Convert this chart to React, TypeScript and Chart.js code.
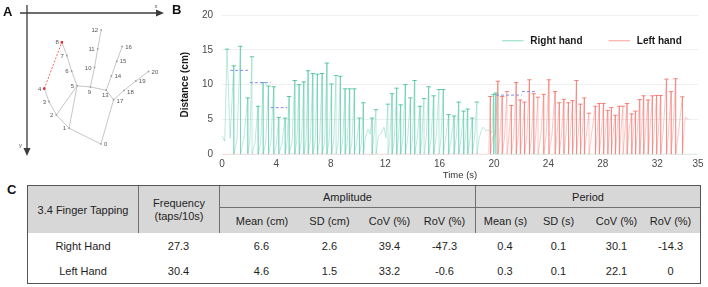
import { useEffect, useRef } from "react";
import { Chart, registerables } from "chart.js";

Chart.register(...registerables);

const FONT = "'Liberation Sans', Arial, Helvetica, sans-serif";
Chart.defaults.font.family = FONT;

// ---------- Panel A: hand landmark layout (image coordinates, y down) ----------
const landmarkX = [101.7, 68.3, 55, 47.3, 42.3, 76.7, 71, 66, 60.7, 90.7, 95, 98.3, 102, 107.3, 112.7, 118.3, 124, 115, 126, 138.3, 151.7];
const landmarkY = [147.3, 130.7, 116.7, 102.7, 89, 86, 70.7, 54.3, 40.3, 87.3, 66.7, 47.3, 27.3, 90.7, 75.7, 60.3, 44.7, 100.7, 91, 81, 71];
const boneChains = [
  [0, 1, 2, 3, 4],
  [1, 5],
  [2, 5],
  [5, 6, 7, 8],
  [5, 9, 13, 17, 0],
  [9, 10, 11, 12],
  [13, 14, 15, 16],
  [17, 18, 19, 20],
];
const markedPair = [4, 8];
const labelSide = ["r", "l", "l", "l", "l", "l", "l", "l", "l", "b", "l", "l", "l", "b", "r", "r", "r", "rb", "rb", "r", "r"];

// ---------- Panel B: fingertip distance traces ----------
const xTicks = [0, 4, 8, 12, 16, 20, 24, 28, 32, 35];
const yTicks = [0, 5, 10, 15, 20];

const rightPeakT = [0.37, 0.86, 1.35, 1.89, 2.2, 2.65, 3.02, 3.41, 3.8, 4.17, 4.64, 4.93, 5.35, 5.67, 6.01, 6.33, 6.67, 7.01, 7.36, 7.71, 8.05, 8.38, 8.7, 9.05, 9.38, 9.73, 10.1, 10.39, 11.03, 11.32, 12.2, 12.5, 12.84, 13.13, 13.48, 13.85, 14.16, 14.56, 14.85, 15.19, 15.56, 15.95, 16.27, 16.66, 17.06, 17.4, 17.76, 18.06, 18.4, 18.74, 19.97, 20.13];
const rightPeakV = [15.1, 12.7, 15.5, 8.1, 14.0, 6.9, 10.3, 9.8, 9.7, 5.3, 5.2, 8.3, 10.6, 10.0, 10.4, 12.0, 11.6, 11.5, 11.6, 13.1, 10.1, 11.3, 11.2, 9.4, 9.4, 9.4, 5.2, 7.4, 5.2, 6.4, 7.2, 8.7, 9.5, 7.1, 10.0, 8.1, 10.6, 6.9, 8.0, 9.7, 8.4, 9.3, 9.3, 5.7, 5.5, 7.5, 6.2, 6.5, 5.2, 7.5, 8.6, 8.8];
const rightLowT = [0.02, 0.2, 0.6, 1.1, 1.6, 2.05, 2.42, 2.85, 3.22, 3.6, 4.0, 4.4, 4.8, 5.15, 5.5, 5.85, 6.17, 6.5, 6.85, 7.18, 7.55, 7.88, 8.22, 8.54, 8.88, 9.22, 9.55, 9.92, 10.25, 10.55, 10.74, 10.88, 11.18, 11.5, 11.7, 11.91, 12.05, 12.35, 12.67, 12.98, 13.3, 13.66, 14.0, 14.36, 14.7, 15.02, 15.37, 15.75, 16.1, 16.46, 16.86, 17.23, 17.58, 17.9, 18.23, 18.57, 18.9, 19.05, 19.2, 19.4, 19.6, 19.85, 20.05, 34.9];
const rightLowV = [2.6, 1.9, 2.3, 2.1, 2.2, 2.0, 1.6, 1.7, 1.8, 1.7, 1.4, 1.5, 2.0, 1.8, 1.9, 2.0, 1.8, 2.0, 1.9, 2.0, 1.8, 2.1, 2.0, 1.8, 2.1, 1.9, 1.7, 2.0, 1.6, 2.5, 3.6, 2.9, 2.8, 2.6, 3.0, 3.9, 2.4, 2.3, 2.2, 2.4, 2.2, 2.5, 2.2, 2.4, 2.1, 2.3, 2.2, 2.6, 2.3, 2.5, 2.2, 2.5, 2.3, 2.4, 2.2, 2.4, 2.2, 3.3, 3.9, 3.4, 3.5, 3.0, 3.0, 0];
const rightNoDrop = [0];

const leftPeakT = [19.73, 20.28, 20.6, 20.95, 21.27, 21.63, 21.93, 22.24, 22.6, 22.92, 23.23, 23.65, 24.03, 24.49, 24.8, 25.13, 25.47, 25.77, 26.06, 26.35, 26.64, 26.98, 27.45, 27.74, 28.05, 28.36, 28.63, 28.92, 29.21, 29.48, 29.78, 30.12, 30.4, 30.71, 31.0, 31.33, 31.64, 31.95, 32.25, 32.68, 33.02, 33.35, 33.85];
const leftPeakV = [8.3, 10.5, 8.3, 9.0, 7.0, 10.3, 7.8, 7.5, 10.7, 8.7, 8.2, 8.6, 10.7, 9.0, 7.4, 7.9, 7.4, 7.7, 10.6, 7.2, 8.1, 5.9, 6.9, 7.3, 7.3, 6.3, 6.7, 5.6, 6.9, 6.9, 7.3, 5.8, 6.2, 7.85, 8.4, 7.8, 8.4, 8.45, 8.45, 10.8, 9.0, 10.85, 8.25];
const leftLowT = [0, 19.62, 19.65, 19.9, 20.1, 20.44, 20.78, 21.1, 21.45, 21.78, 22.08, 22.42, 22.76, 23.07, 23.44, 23.84, 24.26, 24.64, 24.96, 25.3, 25.62, 25.92, 26.2, 26.5, 26.8, 27.2, 27.6, 27.9, 28.2, 28.5, 28.78, 29.06, 29.35, 29.63, 29.95, 30.26, 30.55, 30.85, 31.16, 31.48, 31.8, 32.1, 32.46, 32.85, 33.18, 33.6, 34.0, 34.1, 34.3];
const leftLowV = [0, 0, 2.9, 2.5, 2.8, 2.6, 2.5, 2.6, 2.5, 2.7, 2.6, 2.7, 2.6, 2.8, 2.7, 2.9, 2.8, 3.0, 2.9, 3.0, 2.9, 3.1, 3.0, 3.2, 3.0, 3.3, 3.4, 3.3, 3.5, 3.4, 3.6, 3.5, 3.7, 3.5, 3.8, 3.6, 3.7, 3.6, 3.8, 3.7, 3.9, 3.7, 3.8, 3.6, 3.8, 3.7, 4.6, 5.3, 5.0];
const leftNoDrop: number[] = [];

// amplitude reference levels: [start, end, level]
const rightLevels = [[0.6, 2.05, 12.05], [2.05, 3.58, 10.28], [3.58, 4.8, 6.7]];
const leftLevels = [[20.15, 22.05, 8.5], [22.05, 23.05, 9.0]];

// ---------- Panel C: summary table ----------
const ampHeads = ["Mean (cm)", "SD (cm)", "CoV (%)", "RoV (%)"];
const perHeads = ["Mean (s)", "SD (s)", "CoV (%)", "RoV (%)"];
const rowLabels = ["Right Hand", "Left Hand"];
const frequency = ["27.3", "30.4"];
const amplitudeStats = [["6.6", "2.6", "39.4", "-47.3"], ["4.6", "1.5", "33.2", "-0.6"]];
const periodStats = [["0.4", "0.1", "30.1", "-14.3"], ["0.3", "0.1", "22.1", "0"]];

const RIGHT_LINE = "rgba(80, 200, 165, 0.42)";
const LEFT_LINE = "rgba(245, 110, 100, 0.42)";
const RIGHT_CAP = "rgba(60, 185, 150, 0.8)";
const LEFT_CAP = "rgba(240, 95, 85, 0.75)";
const LEVEL_LINE = "rgba(125, 125, 235, 0.9)";

type P = { x: number; y: number };

function buildTrace(peakT: number[], peakV: number[], lowT: number[], lowV: number[], noDrop: number[]): P[] {
  const pts: P[] = [];
  peakT.forEach((t, i) => {
    pts.push({ x: t, y: peakV[i] });
    if (!noDrop.includes(i)) pts.push({ x: t + 0.01, y: 0 });
  });
  lowT.forEach((t, i) => pts.push({ x: t, y: lowV[i] }));
  return pts.sort((a, b) => a.x - b.x);
}

const handPlugin = {
  id: "handDecor",
  beforeDatasetsDraw(chart: any) {
    const { ctx } = chart;
    ctx.save();
    ctx.strokeStyle = "#3c3c3c";
    ctx.fillStyle = "#3c3c3c";
    ctx.lineWidth = 1.3;
    ctx.beginPath();
    ctx.moveTo(20, 13);
    ctx.lineTo(157, 13);
    ctx.moveTo(27, 5);
    ctx.lineTo(27, 149);
    ctx.stroke();
    ctx.beginPath();
    ctx.moveTo(164, 13);
    ctx.lineTo(156, 9.5);
    ctx.lineTo(156, 16.5);
    ctx.closePath();
    ctx.fill();
    ctx.beginPath();
    ctx.moveTo(27, 156);
    ctx.lineTo(23.5, 148);
    ctx.lineTo(30.5, 148);
    ctx.closePath();
    ctx.fill();
    ctx.font = `6px ${FONT}`;
    ctx.fillStyle = "#555";
    ctx.textAlign = "center";
    ctx.textBaseline = "middle";
    ctx.fillText("x", 156, 6);
    ctx.fillText("y", 20.5, 145.5);
    ctx.restore();
  },
  afterDatasetsDraw(chart: any) {
    const { ctx } = chart;
    const sx = chart.scales.x;
    const sy = chart.scales.y;
    ctx.save();
    ctx.font = `6px ${FONT}`;
    ctx.fillStyle = "#555";
    ctx.textBaseline = "middle";
    landmarkX.forEach((lx, i) => {
      const px = sx.getPixelForValue(lx);
      const py = sy.getPixelForValue(landmarkY[i]);
      const side = labelSide[i];
      if (side === "l") {
        ctx.textAlign = "right";
        ctx.fillText(String(i), px - 3, py + 0.5);
      } else if (side === "r") {
        ctx.textAlign = "left";
        ctx.fillText(String(i), px + 3, py + 0.5);
      } else if (side === "rb") {
        ctx.textAlign = "left";
        ctx.fillText(String(i), px + 3, py + 2);
      } else {
        ctx.textAlign = "center";
        ctx.fillText(String(i), px - 1, py + 5.5);
      }
    });
    ctx.restore();
  },
};

const legendItems = [
  { label: "Right hand", color: "rgba(80, 200, 165, 0.55)", x: 332 },
  { label: "Left hand", color: "rgba(245, 110, 100, 0.55)", x: 438.5 },
];

const legendPlugin = {
  id: "insideLegend",
  afterDraw(chart: any) {
    const { ctx } = chart;
    ctx.save();
    ctx.font = `bold 10px ${FONT}`;
    ctx.textBaseline = "middle";
    ctx.textAlign = "left";
    legendItems.forEach((it) => {
      ctx.strokeStyle = it.color;
      ctx.lineWidth = 1.2;
      ctx.beginPath();
      ctx.moveTo(it.x, 40.7);
      ctx.lineTo(it.x + 21.5, 40.7);
      ctx.stroke();
      ctx.fillStyle = "#1a1a1a";
      ctx.fillText(it.label, it.x + 28.3, 41.3);
    });
    ctx.restore();
  },
};

function HandPanel() {
  const ref = useRef<HTMLCanvasElement>(null);
  useEffect(() => {
    const pt = (i: number) => ({ x: landmarkX[i], y: landmarkY[i] });
    const bones = boneChains.map((chain) => ({
      type: "line" as const,
      data: chain.map(pt),
      borderColor: "#c6c6c6",
      borderWidth: 1,
      pointRadius: 0,
      showLine: true,
      order: 3,
    }));
    const chart = new Chart(ref.current!, {
      type: "scatter",
      data: {
        datasets: [
          {
            data: landmarkX.map((_, i) => pt(i)),
            pointStyle: "rect",
            pointRadius: landmarkX.map((_, i) => (markedPair.includes(i) ? 1.7 : 1.1)),
            pointBackgroundColor: landmarkX.map((_, i) => (markedPair.includes(i) ? "#e8231e" : "#9a9a9a")),
            pointBorderWidth: 0,
            order: 0,
          } as any,
          {
            type: "line",
            data: markedPair.map(pt),
            borderColor: "#f06a64",
            borderWidth: 1,
            borderDash: [2, 1.5],
            pointRadius: 0,
            order: 1,
          } as any,
          ...bones,
        ],
      },
      options: {
        responsive: false,
        animation: false,
        events: [],
        layout: { padding: 0 },
        plugins: { legend: { display: false }, tooltip: { enabled: false } },
        scales: {
          x: { type: "linear", min: 0, max: 170, display: false },
          y: { type: "linear", min: 0, max: 162, reverse: true, display: false },
        },
      },
      plugins: [handPlugin],
    });
    return () => chart.destroy();
  }, []);
  return <canvas ref={ref} width={170} height={162} style={{ position: "absolute", left: 0, top: 0, width: 170, height: 162 }} />;
}

function TracePanel() {
  const ref = useRef<HTMLCanvasElement>(null);
  useEffect(() => {
    const rightTrace = buildTrace(rightPeakT, rightPeakV, rightLowT, rightLowV, rightNoDrop);
    const leftTrace = buildTrace(leftPeakT, leftPeakV, leftLowT, leftLowV, leftNoDrop);
    const capSet = (ts: number[], vs: number[], color: string) => ({
      data: ts.map((t, i) => ({ x: t, y: vs[i] })),
      showLine: false,
      pointStyle: "line",
      pointRadius: 2.2,
      pointBorderWidth: 1,
      pointBorderColor: color,
      borderColor: color,
      order: 1,
    });
    const levelSets = [...rightLevels, ...leftLevels].map(([a, b, v]) => ({
      data: [{ x: a, y: v }, { x: b, y: v }],
      borderColor: LEVEL_LINE,
      borderWidth: 1,
      borderDash: [3, 2],
      pointRadius: 0,
      order: 0,
    }));
    const tickFont = { size: 10, family: FONT };
    const chart = new Chart(ref.current!, {
      type: "line",
      data: {
        datasets: [
          { data: rightTrace, borderColor: RIGHT_LINE, borderWidth: 0.9, pointRadius: 0, tension: 0, order: 3 },
          { data: leftTrace, borderColor: LEFT_LINE, borderWidth: 0.9, pointRadius: 0, tension: 0, order: 2 },
          capSet(rightPeakT, rightPeakV, RIGHT_CAP),
          capSet(leftPeakT, leftPeakV, LEFT_CAP),
          ...levelSets,
        ] as any,
      },
      options: {
        responsive: false,
        animation: false,
        events: [],
        layout: { padding: { left: 5, right: 10, top: 11.7, bottom: 0 } },
        plugins: { legend: { display: false }, tooltip: { enabled: false } },
        scales: {
          x: {
            type: "linear",
            min: 0,
            max: 35,
            afterBuildTicks: (axis: any) => {
              axis.ticks = xTicks.map((value) => ({ value }));
            },
            afterFit: (axis: any) => {
              axis.height = 27.7;
            },
            grid: { display: false, drawTicks: false },
            border: { display: false },
            ticks: { padding: 4, color: "#4a4a4a", font: tickFont, maxRotation: 0, autoSkip: false },
            title: { display: true, text: "Time (s)", color: "#333", font: { size: 9.5, family: FONT }, padding: { top: 0, bottom: 1.3 } },
          },
          y: {
            type: "linear",
            min: 0,
            max: 20,
            afterBuildTicks: (axis: any) => {
              axis.ticks = yTicks.map((value) => ({ value }));
            },
            afterFit: (axis: any) => {
              axis.width = 47;
            },
            grid: { color: "#efefef", drawTicks: false },
            border: { display: false },
            ticks: { padding: 9, color: "#4a4a4a", font: tickFont },
            title: { display: true, text: "Distance (cm)", color: "#1a1a1a", font: { size: 10, weight: "bold", family: FONT }, padding: { top: 4, bottom: 0 } },
          },
        },
      },
      plugins: [legendPlugin],
    });
    return () => chart.destroy();
  }, []);
  return <canvas ref={ref} width={538} height={182} style={{ position: "absolute", left: 170, top: 0, width: 538, height: 182 }} />;
}

const headBg = "#d7d7d7";
const ruleColor = "#6f6f6f";
const colWidths = [110, 81, 85, 51, 69, 51, 60, 47, 69, 49];

function SummaryTable() {
  const cell = (extra: any = {}) => ({
    display: "flex",
    alignItems: "center",
    justifyContent: "center",
    textAlign: "center" as const,
    whiteSpace: "nowrap" as const,
    ...extra,
  });
  const statCols = [...ampHeads, ...perHeads];
  const rows = rowLabels.map((lab, r) => [lab, frequency[r], ...amplitudeStats[r], ...periodStats[r]]);
  const rovPad = (c: number) => (c === 5 || c === 9 ? { paddingRight: 10 } : {});
  return (
    <div
      style={{
        position: "absolute",
        left: 27,
        top: 185,
        width: 674,
        height: 99,
        boxSizing: "border-box",
        border: `1px solid #555`,
        display: "grid",
        gridTemplateColumns: colWidths.map((w) => `${w}px`).join(" "),
        gridTemplateRows: "22px 25px 25px 25px",
        fontFamily: FONT,
        fontSize: 11,
        color: "#1e1e1e",
      }}
    >
      <div style={cell({ gridColumn: "1", gridRow: "1 / span 2", background: headBg })}>3.4 Finger Tapping</div>
      <div style={cell({ gridColumn: "2", gridRow: "1 / span 2", background: headBg, borderLeft: `1px solid ${ruleColor}`, flexDirection: "column", lineHeight: "12.7px" })}>
        <span>Frequency</span>
        <span>(taps/10s)</span>
      </div>
      <div style={cell({ gridColumn: "3 / span 4", gridRow: "1", background: headBg, borderLeft: `1px solid ${ruleColor}`, borderBottom: `1px solid ${ruleColor}` })}>Amplitude</div>
      <div style={cell({ gridColumn: "7 / span 4", gridRow: "1", background: headBg, borderLeft: `1px solid ${ruleColor}`, borderBottom: `1px solid ${ruleColor}` })}>Period</div>
      {statCols.map((h, i) => (
        <div
          key={"h" + i}
          style={cell({
            gridColumn: String(3 + i),
            gridRow: "2",
            background: headBg,
            boxSizing: "border-box",
            ...(i === 0 || i === 4 ? { borderLeft: `1px solid ${ruleColor}` } : {}),
            ...rovPad(i + 2),
          })}
        >
          {h}
        </div>
      ))}
      {rows.map((row, r) =>
        row.map((v, c) => (
          <div key={`${r}-${c}`} style={cell({ gridColumn: String(c + 1), gridRow: String(3 + r), boxSizing: "border-box", ...rovPad(c) })}>
            {v}
          </div>
        ))
      )}
    </div>
  );
}

const panelLetter = (text: string, left: number, top: number) => (
  <div style={{ position: "absolute", left, top, fontFamily: FONT, fontWeight: "bold", fontSize: 13, lineHeight: "13px", color: "#111" }}>{text}</div>
);

export default function App() {
  return (
    <div style={{ position: "fixed", left: 0, top: 0, width: 708, height: 287, background: "#fff", overflow: "hidden" }}>
      <HandPanel />
      <TracePanel />
      <SummaryTable />
      {panelLetter("A", 3, 5)}
      {panelLetter("B", 172, 3)}
      {panelLetter("C", 7, 183)}
    </div>
  );
}
